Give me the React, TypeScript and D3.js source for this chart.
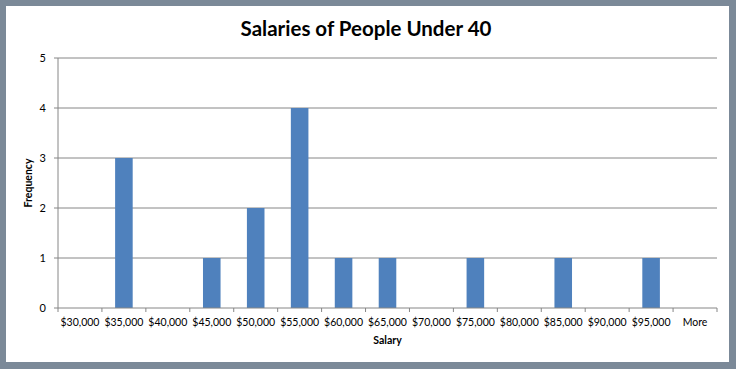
import React from "react";
import * as d3 from "d3";

const categories = ["$30,000", "$35,000", "$40,000", "$45,000", "$50,000", "$55,000", "$60,000", "$65,000", "$70,000", "$75,000", "$80,000", "$85,000", "$90,000", "$95,000", "More"];
const frequencies = [0, 3, 0, 1, 2, 4, 1, 1, 0, 1, 0, 1, 0, 1, 0];
const yTicks = [0, 1, 2, 3, 4, 5];

const W = 736;
const H = 369;
const FONT = "Lato, 'Open Sans', sans-serif";

export default function App() {
  const left = 58, right = 717, top = 58, bottom = 308;
  const x = d3.scaleBand<string>().domain(categories).range([left, right]).paddingInner(0.6).paddingOuter(0.3);
  const xb = d3.scaleBand<string>().domain(categories).range([left, right]);
  const y = d3.scaleLinear().domain([0, 5]).range([bottom, top]);
  const boundaries = d3.range(categories.length + 1).map((i) => left + i * xb.step());

  return (
    <svg width={W} height={H} style={{ position: "absolute", left: 0, top: 0 }} fontFamily={FONT}>
      <rect x={0} y={0} width={W} height={H} fill="#7b8998" />
      <rect x={6} y={6} width={723} height={356} fill="#ffffff" />
      <text x={366} y={36} textAnchor="middle" fontSize={20.5} fontWeight="bold" fill="#000">Salaries of People Under 40</text>
      {yTicks.map((t) => (
        <g key={t}>
          {t > 0 && <line x1={left} x2={right} y1={y(t)} y2={y(t)} stroke="#868686" strokeWidth={1} />}
          <line x1={left - 4} x2={left} y1={y(t)} y2={y(t)} stroke="#868686" />
          <text x={left - 12} y={y(t) + 4} textAnchor="end" fontSize={11} fill="#000">{t}</text>
        </g>
      ))}
      {categories.map((c, i) => (
        <rect key={c} x={x(c)!} width={x.bandwidth()} y={y(frequencies[i])} height={bottom - y(frequencies[i])} fill="#4f81bd" />
      ))}
      <line x1={left} x2={left} y1={top} y2={bottom} stroke="#868686" />
      <line x1={left} x2={right} y1={bottom} y2={bottom} stroke="#868686" />
      {boundaries.map((b, i) => (
        <line key={i} x1={b} x2={b} y1={bottom} y2={bottom + 4} stroke="#868686" />
      ))}
      {categories.map((c) => (
        <text key={c} x={xb(c)! + xb.bandwidth() / 2} y={bottom + 18} textAnchor="middle" fontSize={10.5} fill="#000">{c}</text>
      ))}
      <text x={(left + right) / 2} y={344} textAnchor="middle" fontSize={10.5} fontWeight="bold" fill="#000">Salary</text>
      <text transform={`translate(32,${(top + bottom) / 2}) rotate(-90)`} textAnchor="middle" fontSize={10.5} fontWeight="bold" fill="#000">Frequency</text>
    </svg>
  );
}
